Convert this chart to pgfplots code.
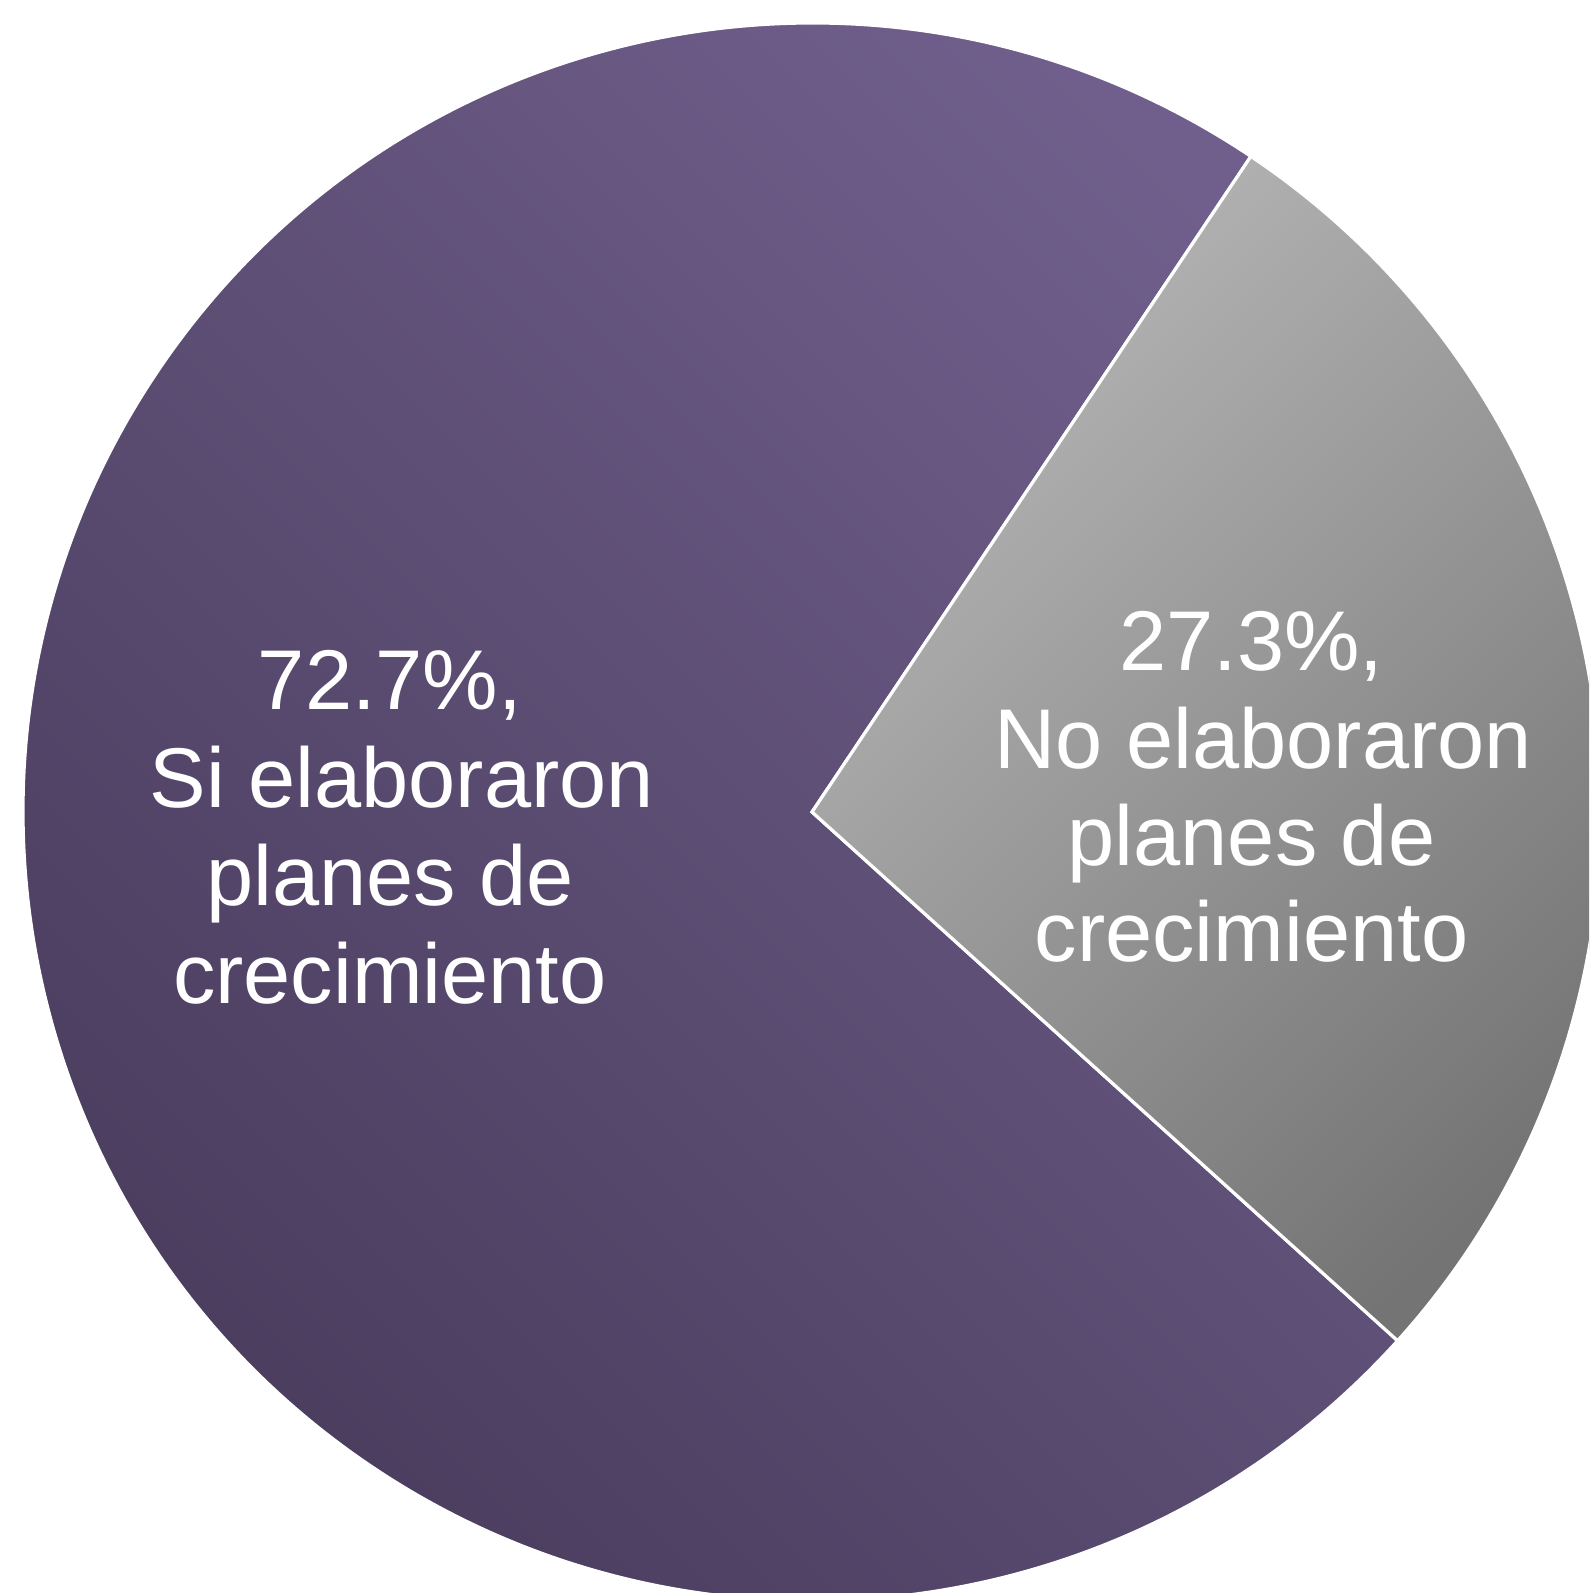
\documentclass[border=0pt]{standalone}
\usepackage{pgfplots}
\usepackage{pgfplotstable}
\pgfplotsset{compat=1.18}
\usepackage{fontspec}
\setmainfont{Liberation Sans}
\definecolor{purpleLight}{HTML}{705F8C}
\definecolor{purpleDark}{HTML}{483B5B}
\definecolor{grayLight}{HTML}{B6B6B6}
\definecolor{grayDark}{HTML}{747474}
\pgfplotstableread{
label value
Si 72.7
No 27.3
}\piedata
\pgfplotstablegetelem{0}{value}\of\piedata \let\valA\pgfplotsretval
\pgfplotstablegetelem{1}{value}\of\piedata \let\valB\pgfplotsretval
\pgfmathsetmacro{\angS}{56.2}
\pgfmathsetmacro{\angM}{\angS+3.6*\valA}
\pgfmathsetmacro{\angE}{\angM+3.6*\valB}
\begin{document}
\begin{tikzpicture}
\begin{axis}[
  scale only axis,
  width=397.25pt, height=398.25pt,
  xmin=-1.0292, xmax=0.9848,
  ymin=-0.9899, ymax=1.0292,
  hide axis,
  clip=true,
]
\path[draw=white, line width=0.8pt, top color=purpleLight, bottom color=purpleDark, shading angle=-45]
  (axis cs:0,0) -- (axis cs:{cos(\angS)},{sin(\angS)}) arc[start angle=\angS, end angle=\angM, radius=1] -- cycle;
\path[draw=white, line width=0.8pt, top color=grayLight, bottom color=grayDark, shading angle=45]
  (axis cs:0,0) -- (axis cs:{cos(\angM)},{sin(\angM)}) arc[start angle=\angM, end angle=\angE, radius=1] -- cycle;
\begin{scope}[every node/.style={text=white, anchor=base, inner sep=0pt, font=\fontsize{21.2}{25}\selectfont}]
\node at (axis cs:-0.535,0.1293) {72.7\%,};
\node at (axis cs:-0.535,0.0051) {~Si elaboraron};
\node at (axis cs:-0.535,-0.1191) {planes de};
\node at (axis cs:-0.535,-0.2421) {crecimiento};
\node at (axis cs:0.557,0.1793) {27.3\%,};
\node at (axis cs:0.557,0.0551) {~No elaboraron};
\node at (axis cs:0.557,-0.0678) {planes de};
\node at (axis cs:0.557,-0.1900) {crecimiento};
\end{scope}
\end{axis}
\pgfresetboundingbox
\path (current axis.south west) rectangle (current axis.north east);
\end{tikzpicture}
\end{document}
